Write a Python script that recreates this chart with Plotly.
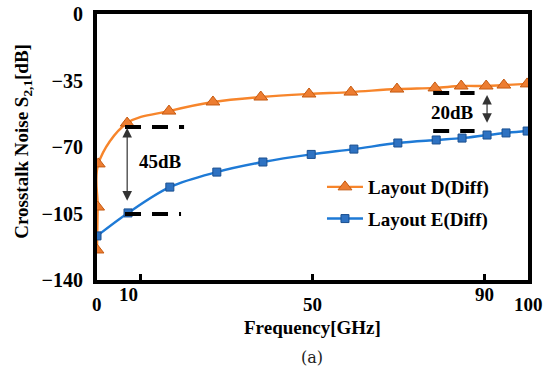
import plotly.graph_objects as go

# ---- data ----
freq_d = [0, 0.15, 0.3, 7.0, 16.7, 26.9, 38.0, 49.2, 58.9, 69.6, 78.4, 84.5, 90.3, 94.4, 99.8]
noise_d = [-124.2, -101.6, -78.9, -57.4, -51.1, -46.3, -43.7, -42.1, -41.1, -39.5, -38.9, -37.9, -37.9, -37.4, -36.8]

freq_e = [0, 7.2, 16.9, 27.8, 38.5, 49.7, 59.6, 69.8, 78.7, 84.7, 90.5, 94.9, 99.8]
noise_e = [-116.8, -104.7, -91.1, -83.2, -77.9, -73.9, -71.1, -67.9, -66.3, -65.3, -63.7, -62.6, -61.6]

names = ["Layout D(Diff)", "Layout E(Diff)"]
y_ticks = [0, -35, -70, -105, -140]
x_ticks = [0, 10, 50, 90, 100]
x_tick_labels = ["0", "10", "50", "90", "100"]

SERIF = "Liberation Serif"

fig = go.Figure()
fig.add_trace(go.Scatter(
    x=freq_d, y=noise_d, name=names[0], mode="lines+markers",
    line=dict(color="#F7852B", width=2.4, shape="spline", smoothing=1.0),
    marker=dict(symbol="triangle-up", size=12, color="#ED7D31",
                line=dict(color="#C55A11", width=1)),
    legendgroup="d",
))
fig.add_trace(go.Scatter(
    x=freq_e, y=noise_e, name=names[1], mode="lines+markers",
    line=dict(color="#1E7AD6", width=2.4, shape="spline", smoothing=1.0),
    marker=dict(symbol="square", size=8, color="#2E72C2",
                line=dict(color="#1A4F8F", width=1)),
    legendgroup="e",
))

# dashed reference lines
dash_style = dict(color="black", width=4, dash="16px,11px")
for x0, x1, yv in [(6.5, 20.2, -59.5), (6.5, 19.5, -105.3), (78.0, 87.6, -41.6), (78.0, 87.6, -61.6)]:
    fig.add_shape(type="line", x0=x0, x1=x1, y0=yv, y1=yv, xref="x", yref="y", line=dash_style)

annotations = []
# double headed arrows
for xv, ytop, ybot in [(7.0, -60.0, -103.5), (90.5, -42.6, -62.5)]:
    annotations.append(dict(
        x=xv, y=ytop, ax=xv, ay=ybot, xref="x", yref="y", axref="x", ayref="y",
        showarrow=True, arrowhead=2, arrowside="end+start", arrowsize=1.6,
        arrowwidth=1.2, arrowcolor="#333333", text=" ", standoff=0, startstandoff=0,
    ))
annotations.append(dict(x=14.8, y=-77.4, xref="x", yref="y", text="<b>45dB</b>", showarrow=False,
                        font=dict(family=SERIF, size=19, color="black")))
annotations.append(dict(x=82.4, y=-52.1, xref="x", yref="y", text="<b>20dB</b>", showarrow=False,
                        font=dict(family=SERIF, size=19, color="black")))

# staggered x tick labels
label_shift = {"0": -24, "10": -14, "50": -24, "90": -14, "100": -24}
label_xshift = {"0": 0, "10": -12, "50": 0, "90": 0, "100": 0}
for xv, lab in zip(x_ticks, x_tick_labels):
    annotations.append(dict(x=xv, y=0, xref="x", yref="paper", text="<b>%s</b>" % lab,
                            showarrow=False, yanchor="middle", yshift=label_shift[lab],
                            xshift=label_xshift[lab],
                            font=dict(family=SERIF, size=19, color="black")))
# x title
annotations.append(dict(x=0.499, y=-0.177, xref="paper", yref="paper", text="<b>Frequency[GHz]</b>",
                        showarrow=False, yanchor="middle",
                        font=dict(family=SERIF, size=19, color="black")))
# y title
annotations.append(dict(x=-0.172, y=0.523, xref="paper", yref="paper",
                        text="<b>Crosstalk Noise S<sub>2,1</sub>[dB]</b>", textangle=-90,
                        showarrow=False, xanchor="center", yanchor="middle",
                        font=dict(family=SERIF, size=19, color="black")))
# caption
annotations.append(dict(x=0.499, y=-0.29, xref="paper", yref="paper", text="(a)",
                        showarrow=False, yanchor="middle",
                        font=dict(family="DejaVu Serif", size=16, color="#222222")))

fig.update_layout(
    width=550, height=375,
    margin=dict(l=97, r=22, t=14, b=95, autoexpand=False),
    paper_bgcolor="white", plot_bgcolor="white",
    showlegend=True,
    legend=dict(x=0.522, y=0.421, xanchor="left", yanchor="top",
                font=dict(family=SERIF, size=19, color="black", weight="bold"),
                bgcolor="rgba(0,0,0,0)", tracegroupgap=4, itemwidth=36,
                traceorder="grouped"),
    annotations=annotations,
)
fig.update_xaxes(range=[0, 100], showline=True, mirror=True, linewidth=4, linecolor="black",
                 showgrid=False, zeroline=False, tickvals=[10, 50, 90], ticks="inside",
                 ticklen=6, tickwidth=3, tickcolor="black", showticklabels=False,
                 automargin=False)
fig.update_yaxes(range=[-140, 0], showline=True, mirror=True, linewidth=4, linecolor="black",
                 showgrid=False, zeroline=False, tickvals=y_ticks, ticks="",
                 ticklabelstandoff=6, automargin=False, ticklabeloverflow="allow",
                 tickfont=dict(family=SERIF, size=20, color="black", weight="bold"))

# remove the default 8px page margin so the 550x375 figure fills the window exactly
fig.write_html("out.html", config={"displayModeBar": False},
               post_script="document.body.style.margin='0';")
